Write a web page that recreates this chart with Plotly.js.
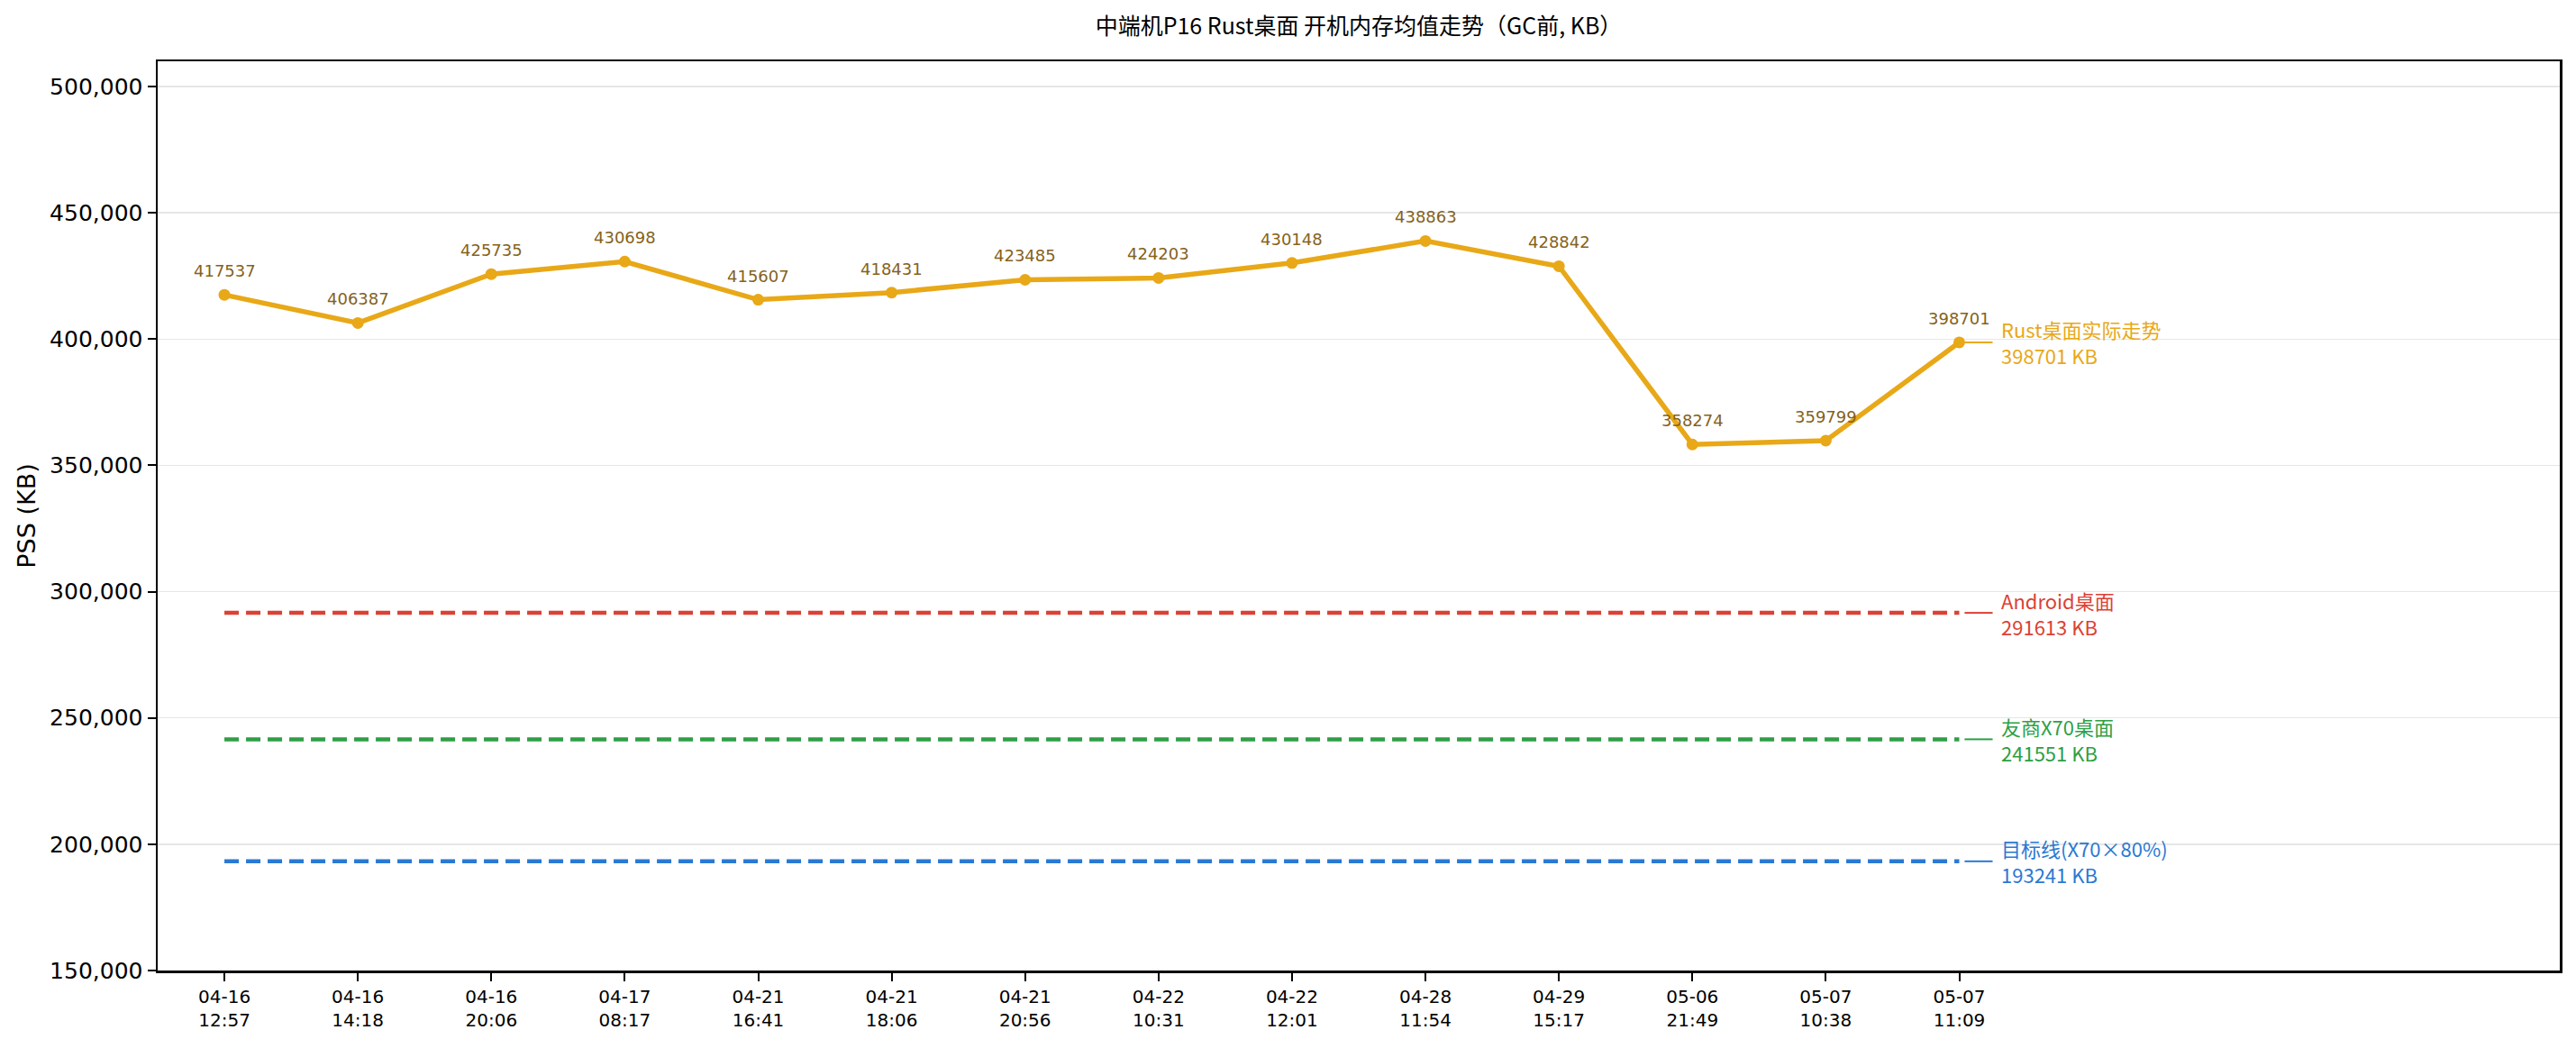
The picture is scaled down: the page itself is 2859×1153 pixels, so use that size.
<!DOCTYPE html>
<html>
<head>
<meta charset="utf-8">
<script src="https://cdn.plot.ly/plotly-3.0.1.min.js"></script>
<style>html,body{margin:0;padding:0;background:#fff;}#chart{width:2859px;height:1153px;}</style>
</head>
<body>
<div id="chart"></div>
<script>
// ---- data ----
const timeLabels = ["04-16<br>12:57","04-16<br>14:18","04-16<br>20:06","04-17<br>08:17","04-21<br>16:41","04-21<br>18:06","04-21<br>20:56","04-22<br>10:31","04-22<br>12:01","04-28<br>11:54","04-29<br>15:17","05-06<br>21:49","05-07<br>10:38","05-07<br>11:09"];
const rustPss = [417537,406387,425735,430698,415607,418431,423485,424203,430148,438863,428842,358274,359799,398701];
const refNames = ["Android桌面","友商X70桌面","目标线(X70×80%)"];
const refValues = [291613,241551,193241];
const rustName = "Rust桌面实际走势";
const yTickVals = [150000,200000,250000,300000,350000,400000,450000,500000];

// ---- styles ----
const rustColor = "#e8a817";
const labelColor = "#85621a";
const refColors = ["#dc4135","#2e9f45","#2a79d3"];
const cjk = "Noto Sans CJK SC, Noto Sans, sans-serif";
const dv = "DejaVu Sans, sans-serif";

const xIdx = timeLabels.map((_, i) => i);
const lastX = xIdx[xIdx.length - 1];

const traces = [];
refValues.forEach((v, k) => {
  traces.push({
    x: xIdx, y: xIdx.map(() => v), mode: "lines", type: "scatter",
    line: {color: refColors[k], width: 4.5, dash: "16px,8px"},
    hoverinfo: "skip", showlegend: false
  });
});
traces.push({
  x: xIdx, y: rustPss, mode: "lines+markers", type: "scatter",
  line: {color: rustColor, width: 5.5},
  marker: {color: rustColor, size: 13},
  showlegend: false
});

const annotations = [];
rustPss.forEach((v, i) => {
  annotations.push({
    x: i, y: v, xref: "x", yref: "y", text: String(v), showarrow: false,
    xanchor: "center", yanchor: "bottom", yshift: 14,
    font: {family: dv, size: 18, color: labelColor}
  });
});
const sideItems = [{name: rustName, value: rustPss[rustPss.length - 1], color: rustColor}]
  .concat(refNames.map((n, k) => ({name: n, value: refValues[k], color: refColors[k]})));
const shapes = [];
sideItems.forEach(it => {
  annotations.push({
    x: lastX + 0.3, y: it.value, xref: "x", yref: "y",
    text: it.name + "<br>" + it.value + " KB", showarrow: false,
    xanchor: "left", yanchor: "middle", align: "left",
    font: {family: cjk, size: 22, color: it.color}
  });
  shapes.push({
    type: "line", xref: "x", yref: "y",
    x0: lastX + 0.04, x1: lastX + 0.25, y0: it.value, y1: it.value,
    line: {color: it.color, width: 2}
  });
});

const layout = {
  width: 2859, height: 1153,
  paper_bgcolor: "#fff", plot_bgcolor: "#fff",
  margin: {l: 175, r: 18, t: 68, b: 76},
  title: {
    text: "中端机P16 Rust桌面 开机内存均值走势（GC前, KB）",
    font: {family: cjk, size: 25, color: "#000"},
    x: 0.5, xref: "paper", xanchor: "center",
    y: 1 - 29 / 1153, yref: "container", yanchor: "middle"
  },
  xaxis: {
    range: [-0.5, 17.5],
    tickmode: "array", tickvals: xIdx, ticktext: timeLabels,
    tickfont: {family: dv, size: 20, color: "#000"},
    ticks: "outside", ticklen: 9, tickwidth: 2, tickcolor: "#000",
    showgrid: false, zeroline: false,
    showline: true, linecolor: "#000", linewidth: 2.5, mirror: true
  },
  yaxis: {
    range: [150000, 510000],
    tickmode: "array", tickvals: yTickVals,
    tickformat: ",d",
    tickfont: {family: dv, size: 25, color: "#000"},
    ticks: "outside", ticklen: 9, tickwidth: 2, tickcolor: "#000",
    showgrid: true, gridcolor: "#e6e6e6", gridwidth: 1.5, zeroline: false,
    showline: true, linecolor: "#000", linewidth: 2.5, mirror: true,
    title: {text: "PSS (KB)", font: {family: dv, size: 27, color: "#000"}, standoff: 8}
  },
  annotations: annotations,
  shapes: shapes
};

Plotly.newPlot("chart", traces, layout, {displayModeBar: false, staticPlot: true});
</script>
</body>
</html>
